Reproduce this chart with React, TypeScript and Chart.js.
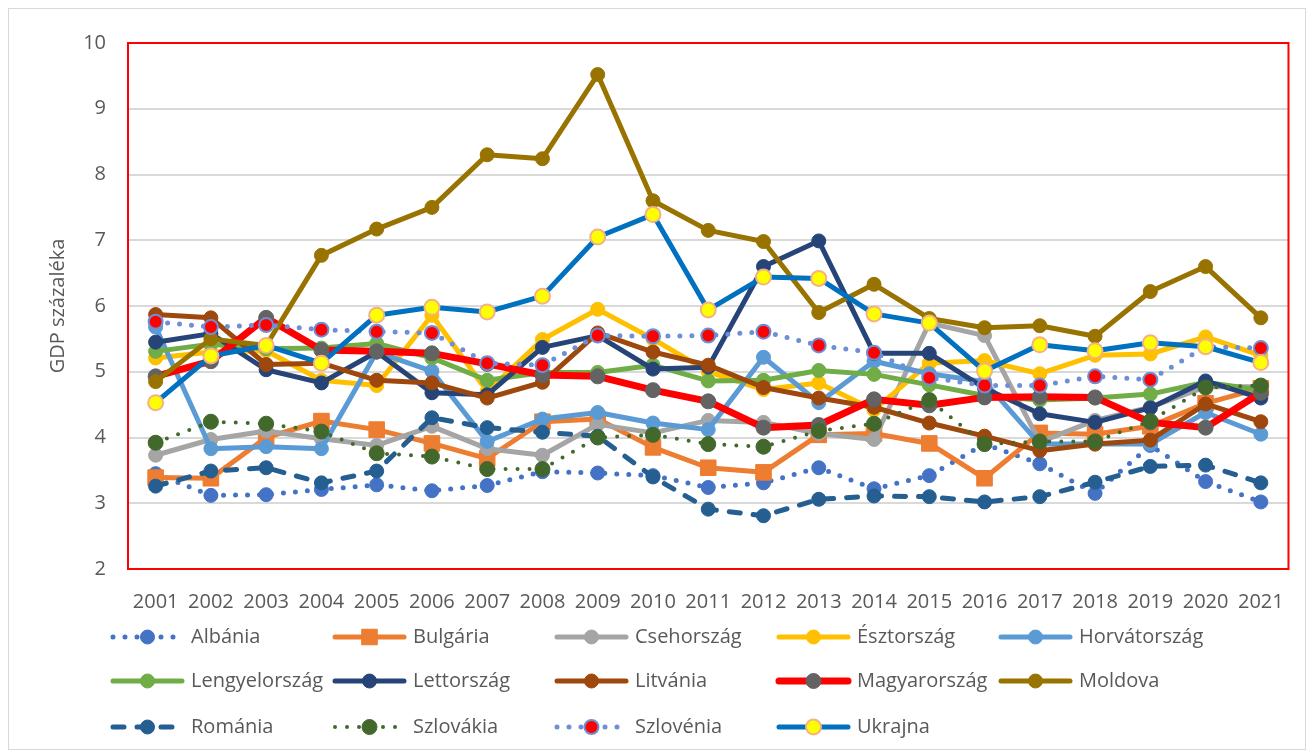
import React, { useEffect, useRef } from 'react';
import { Chart, registerables } from 'chart.js';

Chart.register(...registerables);

const years = ['2001', '2002', '2003', '2004', '2005', '2006', '2007', '2008', '2009', '2010', '2011', '2012', '2013', '2014', '2015', '2016', '2017', '2018', '2019', '2020', '2021'];
const yTicks = [2, 3, 4, 5, 6, 7, 8, 9, 10];
const axisTitle = 'GDP százaléka';

const albania = [3.45, 3.12, 3.13, 3.21, 3.28, 3.19, 3.27, 3.48, 3.46, 3.42, 3.24, 3.31, 3.54, 3.22, 3.42, 3.9, 3.6, 3.15, 3.88, 3.33, 3.02];
const bulgaria = [3.39, 3.38, 4.0, 4.25, 4.12, 3.91, 3.68, 4.24, 4.28, 3.85, 3.54, 3.47, 4.04, 4.06, 3.91, 3.38, 4.07, 4.05, 4.17, 4.52, 4.75];
const csehorszag = [3.73, 3.97, 4.1, 3.98, 3.88, 4.17, 3.83, 3.73, 4.2, 4.07, 4.26, 4.23, 4.06, 3.97, 5.74, 5.55, 3.93, 4.26, 4.46, 4.77, 4.77];
const esztorszag = [5.21, 5.3, 5.32, 4.87, 4.79, 5.86, 4.7, 5.49, 5.95, 5.5, 5.0, 4.73, 4.83, 4.42, 5.13, 5.17, 4.97, 5.25, 5.27, 5.53, 5.25];
const horvatorszag = [5.68, 3.83, 3.86, 3.83, 5.3, 5.01, 3.94, 4.28, 4.38, 4.22, 4.12, 5.22, 4.53, 5.16, 4.97, 4.85, 3.9, 3.9, 3.9, 4.38, 4.05];
const lengyelorszag = [5.31, 5.42, 5.35, 5.36, 5.43, 5.21, 4.87, 4.99, 4.99, 5.1, 4.86, 4.87, 5.02, 4.96, 4.8, 4.64, 4.57, 4.6, 4.66, 4.84, 4.72];
const lettorszag = [5.45, 5.58, 5.03, 4.83, 5.3, 4.68, 4.65, 5.37, 5.55, 5.04, 5.07, 6.6, 6.99, 5.28, 5.28, 4.75, 4.36, 4.23, 4.45, 4.86, 4.6];
const litvania = [5.87, 5.82, 5.11, 5.13, 4.87, 4.83, 4.6, 4.84, 5.59, 5.3, 5.1, 4.76, 4.6, 4.46, 4.22, 4.02, 3.8, 3.9, 3.96, 4.51, 4.24];
const magyarorszag = [4.93, 5.16, 5.82, 5.33, 5.31, 5.28, 5.12, 4.95, 4.93, 4.72, 4.55, 4.15, 4.19, 4.58, 4.49, 4.61, 4.62, 4.61, 4.23, 4.15, 4.68];
const moldova = [4.85, 5.5, 5.4, 6.77, 7.17, 7.5, 8.3, 8.24, 9.52, 7.6, 7.15, 6.98, 5.9, 6.33, 5.81, 5.67, 5.7, 5.54, 6.22, 6.6, 5.82];
const romania = [3.26, 3.49, 3.54, 3.31, 3.49, 4.3, 4.15, 4.08, 4.02, 3.4, 2.91, 2.81, 3.06, 3.11, 3.1, 3.02, 3.1, 3.32, 3.56, 3.58, 3.31];
const szlovakia = [3.92, 4.24, 4.21, 4.09, 3.76, 3.71, 3.52, 3.52, 4.0, 4.04, 3.9, 3.86, 4.1, 4.21, 4.57, 3.9, 3.94, 3.94, 4.25, 4.76, 4.79];
const szlovenia = [5.76, 5.68, 5.71, 5.64, 5.61, 5.59, 5.13, 5.1, 5.55, 5.54, 5.55, 5.61, 5.4, 5.29, 4.91, 4.79, 4.79, 4.93, 4.88, 5.38, 5.36];
const ukrajna = [4.53, 5.24, 5.4, 5.13, 5.86, 5.98, 5.91, 6.15, 7.05, 7.39, 5.94, 6.44, 6.42, 5.88, 5.74, 5.01, 5.41, 5.32, 5.44, 5.38, 5.14];

const FONT = "'Open Sans', sans-serif";
const TEXT = '#595959';

type Def = {
  label: string;
  data: number[];
  color: string;
  width: number;
  dash: number[];
  ps: string;
  r: number;
  bg: string;
  bc: string;
  bw: number;
};

const DOT = [0, 12];
const DASH = [11, 13];

const defs: Def[] = [
  { label: 'Albánia', data: albania, color: '#4472C4', width: 5, dash: DOT, ps: 'circle', r: 7, bg: '#4472C4', bc: '#4472C4', bw: 1 },
  { label: 'Bulgária', data: bulgaria, color: '#ED7D31', width: 5, dash: [], ps: 'rect', r: 11, bg: '#ED7D31', bc: '#ED7D31', bw: 1 },
  { label: 'Csehország', data: csehorszag, color: '#A5A5A5', width: 5, dash: [], ps: 'circle', r: 7, bg: '#A5A5A5', bc: '#A5A5A5', bw: 1 },
  { label: 'Észtország', data: esztorszag, color: '#FFC000', width: 5, dash: [], ps: 'circle', r: 7, bg: '#FFC000', bc: '#FFC000', bw: 1 },
  { label: 'Horvátország', data: horvatorszag, color: '#5B9BD5', width: 5, dash: [], ps: 'circle', r: 7, bg: '#5B9BD5', bc: '#5B9BD5', bw: 1 },
  { label: 'Lengyelország', data: lengyelorszag, color: '#70AD47', width: 5, dash: [], ps: 'circle', r: 7, bg: '#70AD47', bc: '#70AD47', bw: 1 },
  { label: 'Lettország', data: lettorszag, color: '#264478', width: 5, dash: [], ps: 'circle', r: 7, bg: '#264478', bc: '#264478', bw: 1 },
  { label: 'Litvánia', data: litvania, color: '#9E480E', width: 5, dash: [], ps: 'circle', r: 7, bg: '#9E480E', bc: '#9E480E', bw: 1 },
  { label: 'Magyarország', data: magyarorszag, color: '#FF0000', width: 7, dash: [], ps: 'circle', r: 7.5, bg: '#636363', bc: '#636363', bw: 1 },
  { label: 'Moldova', data: moldova, color: '#997300', width: 5, dash: [], ps: 'circle', r: 7, bg: '#997300', bc: '#997300', bw: 1 },
  { label: 'Románia', data: romania, color: '#255E91', width: 5, dash: DASH, ps: 'circle', r: 7, bg: '#255E91', bc: '#255E91', bw: 1 },
  { label: 'Szlovákia', data: szlovakia, color: '#43682B', width: 4, dash: DOT, ps: 'circle', r: 7.5, bg: '#43682B', bc: '#43682B', bw: 1 },
  { label: 'Szlovénia', data: szlovenia, color: '#6E8FD6', width: 5, dash: DOT, ps: 'circle', r: 7, bg: '#FF0000', bc: '#6E8FD6', bw: 2 },
  { label: 'Ukrajna', data: ukrajna, color: '#0070C0', width: 5, dash: [], ps: 'circle', r: 7.5, bg: '#FFFF00', bc: '#F4B183', bw: 2 },
];

const W = 1296;
const H = 740;

function drawMarker(ctx: CanvasRenderingContext2D, d: Def, x: number, y: number) {
  ctx.save();
  ctx.setLineDash([]);
  ctx.fillStyle = d.bg;
  ctx.strokeStyle = d.bc;
  ctx.lineWidth = d.bw;
  ctx.beginPath();
  if (d.ps === 'rect') {
    const s = Math.SQRT1_2 * d.r;
    ctx.rect(x - s, y - s, 2 * s, 2 * s);
  } else {
    ctx.arc(x, y, d.r, 0, Math.PI * 2);
  }
  ctx.fill();
  ctx.stroke();
  ctx.restore();
}

const decorPlugin = {
  id: 'excelDecor',
  beforeDatasetsDraw(chart: any) {
    const { ctx, chartArea } = chart;
    ctx.save();
    ctx.strokeStyle = '#FF0000';
    ctx.lineWidth = 2;
    ctx.strokeRect(chartArea.left, chartArea.top, chartArea.right - chartArea.left, chartArea.bottom - chartArea.top);
    ctx.restore();
  },
  afterDraw(chart: any) {
    const { ctx, chartArea } = chart;
    // axis title
    ctx.save();
    ctx.translate(49, (chartArea.top + chartArea.bottom) / 2);
    ctx.rotate(-Math.PI / 2);
    ctx.font = `20px ${FONT}`;
    ctx.fillStyle = TEXT;
    ctx.textAlign = 'center';
    ctx.textBaseline = 'middle';
    ctx.fillText(axisTitle, 0, 0);
    ctx.restore();

    // legend
    const rows = [628, 672, 718];
    defs.forEach((d, i) => {
      const col = i % 5;
      const row = Math.floor(i / 5);
      const tx = 182 + 222 * col;
      const ty = rows[row];
      const x0 = tx - 78;
      const x1 = tx - 9;
      ctx.save();
      ctx.strokeStyle = d.color;
      ctx.lineWidth = d.width;
      ctx.setLineDash(d.dash);
      ctx.lineCap = d.dash.length ? 'round' : 'round';
      ctx.beginPath();
      ctx.moveTo(x0, ty);
      ctx.lineTo(x1, ty);
      ctx.stroke();
      ctx.restore();
      drawMarker(ctx, d, (x0 + x1) / 2, ty);
      ctx.save();
      ctx.font = `20px ${FONT}`;
      ctx.fillStyle = TEXT;
      ctx.textAlign = 'left';
      ctx.textBaseline = 'middle';
      ctx.fillText(d.label, tx, ty);
      ctx.restore();
    });
  },
};

export default function App() {
  const ref = useRef<HTMLCanvasElement | null>(null);

  useEffect(() => {
    if (!ref.current) return;
    const n = defs.length;
    const chart = new Chart(ref.current, {
      type: 'line',
      data: {
        labels: years,
        datasets: defs.map((d, i) => ({
          label: d.label,
          data: d.data,
          borderColor: d.color,
          backgroundColor: d.color,
          borderWidth: d.width,
          borderDash: d.dash,
          borderCapStyle: d.dash.length ? 'round' : 'butt',
          borderJoinStyle: 'round',
          pointStyle: d.ps,
          pointRadius: d.r,
          pointHoverRadius: d.r,
          pointBackgroundColor: d.bg,
          pointBorderColor: d.bc,
          pointBorderWidth: d.bw,
          tension: 0,
          fill: false,
          order: n - i,
        })) as any,
      },
      options: {
        animation: false,
        responsive: false,
        devicePixelRatio: 1,
        layout: { padding: { top: 27, right: 9, left: 0, bottom: 0 } },
        plugins: {
          legend: { display: false },
          tooltip: { enabled: false },
          title: { display: false },
        },
        scales: {
          x: {
            type: 'category',
            offset: true,
            grid: { display: false, drawTicks: false },
            border: { display: false },
            ticks: {
              autoSkip: false,
              maxRotation: 0,
              minRotation: 0,
              padding: 21,
              color: TEXT,
              font: { family: FONT, size: 20 },
            },
            afterFit: (s: any) => {
              s.height = 178;
            },
          },
          y: {
            min: yTicks[0],
            max: yTicks[yTicks.length - 1],
            afterBuildTicks: (s: any) => {
              s.ticks = yTicks.map((v) => ({ value: v }));
            },
            grid: { color: '#D9D9D9', lineWidth: 2, drawTicks: false },
            border: { display: false },
            ticks: {
              padding: 22,
              color: TEXT,
              font: { family: FONT, size: 20 },
            },
            afterFit: (s: any) => {
              s.width = 119;
            },
          },
        },
      },
      plugins: [decorPlugin],
    });
    return () => chart.destroy();
  }, []);

  return (
    <div
      style={{
        width: W + 2,
        height: H + 2,
        border: '1px solid #D9D9D9',
        boxSizing: 'border-box',
        background: '#fff',
      }}
    >
      <canvas ref={ref} width={W} height={H - 2} style={{ display: 'block', width: W, height: H - 2 }} />
    </div>
  );
}
